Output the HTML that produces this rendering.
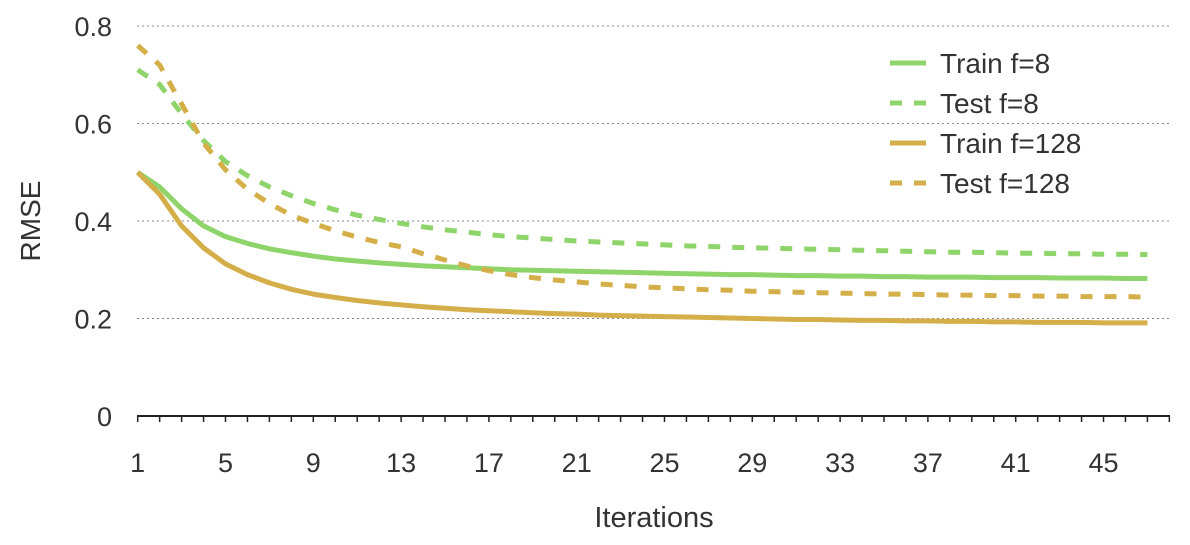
<!DOCTYPE html>
<html><head><meta charset="utf-8"><style>
body{margin:0;background:#fff;}
svg{display:block;font-family:"Liberation Sans","DejaVu Sans",sans-serif;}
</style></head><body>
<svg id="chart" width="1190" height="545" viewBox="0 0 1190 545">
<g id="grid"></g>
<g id="axes"></g>
<g id="series"></g>
<text x="654" y="527" font-size="29" fill="#333" text-anchor="middle">Iterations</text>
<text transform="translate(40,221) rotate(-90)" font-size="28" fill="#333" text-anchor="middle">RMSE</text>
<g id="legend"></g>
</svg>
<script>
const iterations = Array.from({length:47},(_,i)=>i+1);
const trainF8 = [0.50,0.47,0.425,0.39,0.368,0.354,0.343,0.335,0.328,0.322,0.318,0.314,0.311,0.308,0.306,0.304,0.302,0.300,0.299,0.298,0.297,0.296,0.295,0.294,0.293,0.292,0.291,0.290,0.290,0.289,0.288,0.288,0.287,0.287,0.286,0.286,0.285,0.285,0.285,0.284,0.284,0.284,0.283,0.283,0.283,0.282,0.282];
const testF8 = [0.71,0.68,0.62,0.565,0.522,0.493,0.47,0.452,0.436,0.423,0.412,0.403,0.395,0.388,0.382,0.377,0.372,0.368,0.365,0.362,0.359,0.357,0.355,0.353,0.351,0.349,0.348,0.346,0.345,0.344,0.343,0.342,0.341,0.340,0.339,0.338,0.337,0.336,0.336,0.335,0.334,0.334,0.333,0.333,0.332,0.332,0.331];
const trainF128 = [0.50,0.455,0.39,0.345,0.312,0.29,0.273,0.26,0.25,0.243,0.237,0.232,0.228,0.224,0.221,0.218,0.216,0.214,0.212,0.210,0.209,0.207,0.206,0.205,0.204,0.203,0.202,0.201,0.200,0.199,0.198,0.198,0.197,0.196,0.196,0.195,0.195,0.194,0.194,0.193,0.193,0.192,0.192,0.192,0.191,0.191,0.191];
const testF128 = [0.76,0.72,0.64,0.56,0.505,0.465,0.436,0.412,0.395,0.38,0.367,0.356,0.347,0.333,0.32,0.308,0.298,0.29,0.284,0.279,0.275,0.271,0.268,0.265,0.263,0.261,0.259,0.258,0.256,0.255,0.254,0.253,0.252,0.251,0.250,0.250,0.249,0.248,0.248,0.247,0.247,0.246,0.246,0.245,0.245,0.245,0.244];
const yTicks = [0,0.2,0.4,0.6,0.8];
const yTickLabels = ["0","0.2","0.4","0.6","0.8"];
const xTickLabels = [1,5,9,13,17,21,25,29,33,37,41,45];
const seriesNames = ["Train f=8","Test f=8","Train f=128","Test f=128"];

const NS="http://www.w3.org/2000/svg";
const x = it => 137.7 + (it-1)*21.95;
const y = v => 416 - v/0.2*97.5;
function mk(tag, parent, attrs){const e=document.createElementNS(NS,tag);for(const k in attrs)e.setAttribute(k,attrs[k]);parent.appendChild(e);return e;}
const grid=document.getElementById('grid'), axes=document.getElementById('axes'), series=document.getElementById('series'), legend=document.getElementById('legend');

yTicks.forEach((v,i)=>{
  if(v>0){
    const g=mk('line',grid,{x1:137,x2:1169,y1:y(v),y2:y(v),stroke:'#888','stroke-width':1,'stroke-dasharray':'2,3'});
    
    
  }
  const t=mk('text',axes,{x:112,y:y(v)+10,'font-size':27,fill:'#333','text-anchor':'end'});
  t.textContent=yTickLabels[i];
  
  
});
const ax=mk('line',axes,{x1:137,x2:1170,y1:416,y2:416,stroke:'#222','stroke-width':2});


for(let it=1;it<=48;it++){
  const tk=mk('line',axes,{x1:x(it),x2:x(it),y1:416,y2:422,stroke:'#222','stroke-width':1.5});
  
  
}
xTickLabels.forEach(l=>{
  const t=mk('text',axes,{x:x(l),y:472,'font-size':27,fill:'#333','text-anchor':'middle'});
  t.textContent=l;
  
  
});

const green='#8fd46a', gold='#d4ae48';
const defs=[[trainF8,green,null],[testF8,green,'12,12'],[trainF128,gold,null],[testF128,gold,'12,12']];
defs.forEach((d,i)=>{
  const pts=d[0].map((v,j)=>x(iterations[j]).toFixed(1)+','+y(v).toFixed(1)).join(' ');
  const attrs={points:pts,fill:'none',stroke:d[1],'stroke-width':5,'stroke-linejoin':'round'};
  if(d[2])attrs['stroke-dasharray']=d[2];
  const p=mk('polyline',series,attrs);
  
  
  const ly=63+i*40;
  const la={x1:890,x2:926,y1:ly,y2:ly,stroke:d[1],'stroke-width':5};
  if(d[2])la['stroke-dasharray']='12,12';
  const ll=mk('line',legend,la);
  
  
  const lt=mk('text',legend,{x:940,y:ly+10,'font-size':28,fill:'#333'});
  lt.textContent=seriesNames[i];
  
  
});
</script>
</body></html>
